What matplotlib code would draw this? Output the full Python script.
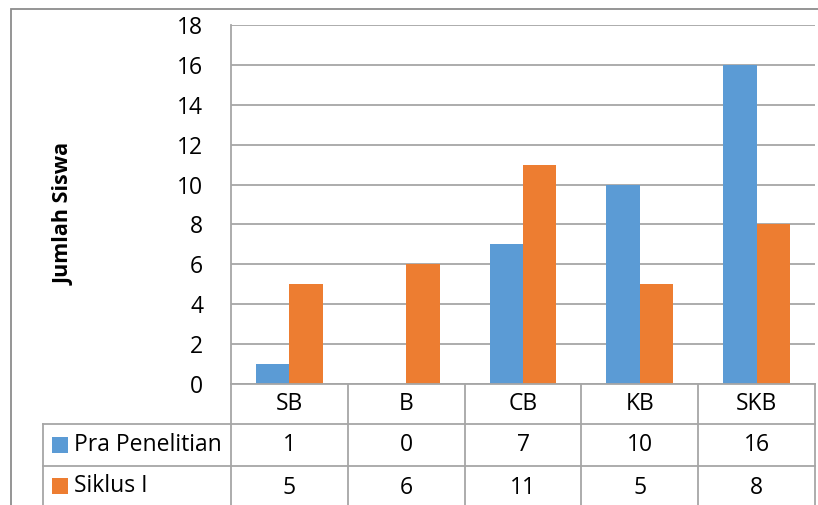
import matplotlib.pyplot as plt
from matplotlib.patches import Rectangle
from matplotlib.lines import Line2D

kategori = ['SB', 'B', 'CB', 'KB', 'SKB']
pra_penelitian = [1, 0, 7, 10, 16]
siklus_1 = [5, 6, 11, 5, 8]
seri = ['Pra Penelitian', 'Siklus I']
warna = ['#5B9BD5', '#ED7D31']
y_ticks = [0, 2, 4, 6, 8, 10, 12, 14, 16, 18]

plt.rcParams['font.family'] = ['Open Sans', 'DejaVu Sans']

W, H = 818, 505
fig = plt.figure(figsize=(W / 100, H / 100), dpi=100)
garis = '#A6A6A6'
fs = 16.5

def fx(px):
    return px / W

def fy(py):
    return 1 - py / H

# area plot dalam piksel
left, right, top, bottom = 231, 815, 25, 384
ax = fig.add_axes([fx(left), fy(bottom), fx(right) - fx(left), fy(top) - fy(bottom)])

n = len(kategori)
lebar = 1 / 3.5
x = list(range(n))
ax.bar([i - lebar / 2 for i in x], pra_penelitian, width=lebar, color=warna[0], zorder=3)
ax.bar([i + lebar / 2 for i in x], siklus_1, width=lebar, color=warna[1], zorder=3)
ax.set_xlim(-0.5, n - 0.5)
ax.set_ylim(0, 18)
ax.set_yticks(y_ticks)
ax.yaxis.grid(True, color=garis, linewidth=1.3, zorder=0)
ax.set_xticks([])
ax.tick_params(axis='y', length=0, labelsize=fs, pad=20)
for s in ['top', 'right', 'bottom']:
    ax.spines[s].set_visible(False)
ax.spines['left'].set_color(garis)
ax.spines['left'].set_linewidth(1.3)

ax.set_ylabel('Jumlah Siswa', fontsize=15.5, fontweight='bold', labelpad=0)
ax.yaxis.set_label_coords((75 - left) / (right - left), (bottom - 214) / (bottom - top))

# bingkai luar grafik
fig.add_artist(Rectangle((fx(11), fy(520)), fx(830) - fx(11), fy(9) - fy(520),
                         transform=fig.transFigure, fill=False, edgecolor='#8C8C8C', linewidth=1.3))

# tabel data
kolom = [left + (right - left) * i / n for i in range(n + 1)]
baris = [bottom, 424, 466, 510]

def hline(y, x0, x1):
    fig.add_artist(Line2D([fx(x0), fx(x1)], [fy(y), fy(y)], color=garis, linewidth=1.3))

def vline(xp, y0, y1):
    fig.add_artist(Line2D([fx(xp), fx(xp)], [fy(y0), fy(y1)], color=garis, linewidth=1.3))

hline(bottom, left, right)
hline(baris[1], 43, right)
hline(baris[2], 43, right)
for xp in kolom:
    vline(xp, bottom, baris[3])
vline(43, baris[1], baris[3])

for i, k in enumerate(kategori):
    cx = (kolom[i] + kolom[i + 1]) / 2
    fig.text(fx(cx), fy((baris[0] + baris[1]) / 2), k, ha='center', va='center', fontsize=fs)
    for r, nilai in enumerate([pra_penelitian, siklus_1]):
        fig.text(fx(cx), fy((baris[r + 1] + baris[r + 2]) / 2), str(nilai[i]),
                 ha='center', va='center', fontsize=fs)

for r, nama in enumerate(seri):
    cy = (baris[r + 1] + min(baris[r + 2], 505)) / 2
    fig.add_artist(Rectangle((fx(52), fy(cy + 8)), fx(16), fy(0) - fy(16),
                             transform=fig.transFigure, facecolor=warna[r], edgecolor='none'))
    fig.text(fx(74), fy(cy), nama, ha='left', va='center', fontsize=fs)

fig.savefig('out.png', dpi=100)
